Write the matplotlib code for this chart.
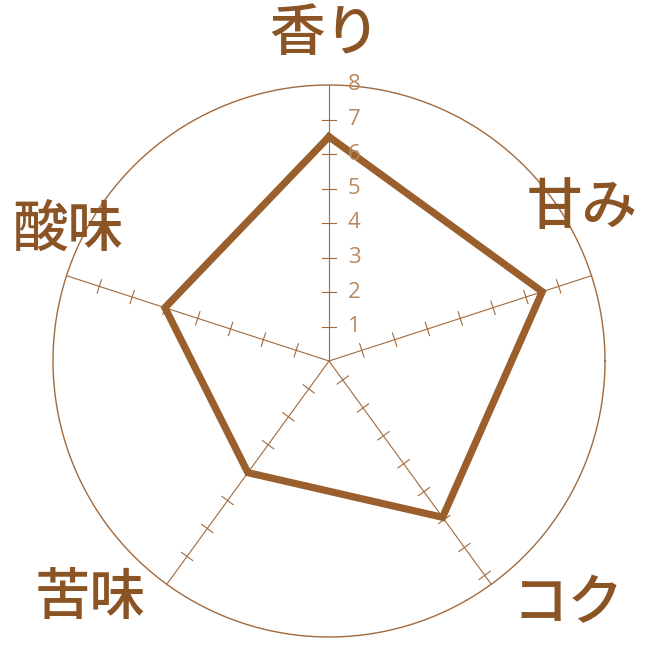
import numpy as np
import matplotlib
matplotlib.use("Agg")
import matplotlib.pyplot as plt

# radar chart of taste profile

categories = ["香り", "甘み", "コク", "苦味", "酸味"]
values = [6.5, 6.5, 5.6, 4.0, 5.0]
scale_labels = ["1", "2", "3", "4", "5", "6", "7", "8"]
max_val = 8

plt.rcParams['font.family'] = ['Noto Sans CJK JP', 'DejaVu Sans']

line_col = "#9a5f2d"
axis_col = "#a26a3c"
label_col = "#8a5425"
num_col = "#b98a60"

W = 650
cx, cy = 329, 361      # centre in pixels
unit = 34.5            # pixels per scale unit

fig = plt.figure(figsize=(6.5, 6.5), dpi=100)
ax = fig.add_axes([0, 0, 1, 1])
ax.set_xlim(-cx / unit, (W - cx) / unit)
ax.set_ylim(-(W - cy) / unit, cy / unit)
ax.set_aspect("equal")
ax.axis("off")

n = len(categories)
angles = np.pi / 2 - np.arange(n) * 2 * np.pi / n

# outer circle
t = np.linspace(0, 2 * np.pi, 400)
ax.plot(max_val * np.cos(t), max_val * np.sin(t), color=axis_col, lw=1.0)

# spokes with tick marks
tick_start = [1, 1, 0.68, 1, 1]
tick_count = [7, 7, 8, 7, 7]
half = 7 / unit
for i, a in enumerate(angles):
    ax.plot([0, max_val * np.cos(a)], [0, max_val * np.sin(a)], color=axis_col, lw=0.8)
    ticks = tick_start[i] + np.arange(tick_count[i])
    px, py = -np.sin(a), np.cos(a)
    for r in ticks:
        x0, y0 = r * np.cos(a), r * np.sin(a)
        ax.plot([x0 - half * px, x0 + half * px], [y0 - half * py, y0 + half * py],
                color=axis_col, lw=0.8)

# scale numbers on the top spoke
for k, lab in enumerate(scale_labels):
    ax.text(19 / unit, k + 1, lab, color=num_col, fontsize=16,
            family=['Open Sans', 'DejaVu Sans'], ha="left", va="center")

# data polygon
vx = np.array(values) * np.cos(angles)
vy = np.array(values) * np.sin(angles)
ax.plot(np.append(vx, vx[0]), np.append(vy, vy[0]), color=line_col, lw=5.2,
        solid_joinstyle="miter")

# category labels (pixel positions of label centres)
label_pos = [(325, 34), (582, 208), (568, 604), (90, 598), (68, 230)]
for lab, (lx, ly) in zip(categories, label_pos):
    fig.text(lx / W, 1 - ly / W, lab, color=label_col, fontsize=40,
             weight="medium", ha="center", va="center")

fig.savefig("out.png", dpi=100)
